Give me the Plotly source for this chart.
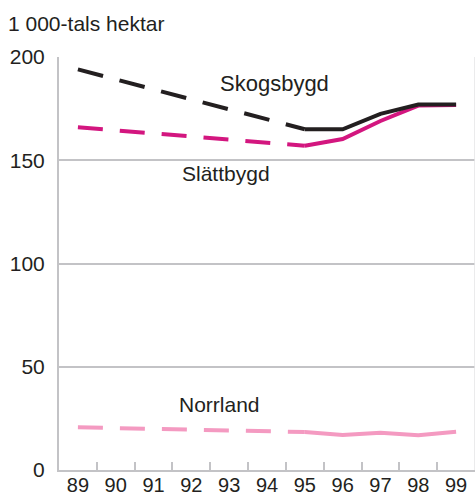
import plotly.graph_objects as go

years = ["89", "90", "91", "92", "93", "94", "95", "96", "97", "98", "99"]

# Dashed (estimated) segment 89-95, solid 95-99
skog_dash_x = ["89", "95"]
skog_dash_y = [194, 165]
skog_x = ["95", "96", "97", "98", "99"]
skog_y = [165, 165, 172.5, 177, 177]

slatt_dash_x = ["89", "95"]
slatt_dash_y = [166, 157]
slatt_x = ["95", "96", "97", "98", "99"]
slatt_y = [157, 160.3, 169, 176.5, 176.8]

norr_dash_x = ["89", "95"]
norr_dash_y = [20.7, 18.4]
norr_x = ["95", "96", "97", "98", "99"]
norr_y = [18.4, 17, 18, 16.8, 18.5]

y_ticks = [0, 50, 100, 150, 200]

BLACK = "#231f20"
MAGENTA = "#d3167f"
PINK = "#f49ac1"
GRID = "#c3c3c6"
FONT = "Liberation Sans, Arial, sans-serif"

fig = go.Figure()

def add(x, y, color, dash):
    fig.add_trace(go.Scatter(x=x, y=y, mode="lines",
                             line=dict(color=color, width=4, dash=dash),
                             hoverinfo="skip", showlegend=False))

add(norr_dash_x, norr_dash_y, PINK, "25px,17px")
add(norr_x, norr_y, PINK, "solid")
add(slatt_dash_x, slatt_dash_y, MAGENTA, "25px,17px")
add(slatt_x, slatt_y, MAGENTA, "solid")
add(skog_dash_x, skog_dash_y, BLACK, "26px,17px")
add(skog_x, skog_y, BLACK, "solid")

fig.update_xaxes(type="category", categoryorder="array", categoryarray=years,
                 tickmode="array", tickvals=years, ticktext=years,
                 tickson="boundaries", ticks="inside", ticklen=8, tickwidth=2,
                 tickcolor=GRID, showline=True, linecolor=GRID, linewidth=2,
                 showgrid=False, zeroline=False, range=[-0.5, 10.5],
                 ticklabelstandoff=-4, automargin=False,
                 tickfont=dict(family=FONT, size=20, color=BLACK))
fig.update_yaxes(range=[0, 200], tickmode="array", tickvals=y_ticks,
                 showgrid=True, gridcolor=GRID, gridwidth=1.7,
                 showline=True, linecolor=GRID, linewidth=2,
                 zeroline=False, ticks="", ticklabelstandoff=8, automargin=False,
                 tickfont=dict(family=FONT, size=21, color=BLACK))

fig.add_shape(type="line", xref="paper", yref="paper", x0=1, x1=1, y0=0, y1=1,
              line=dict(color="#e4e4e6", width=1.5))

def label(text, x, y, size=21):
    fig.add_annotation(text=text, xref="paper", yref="y", x=x, y=y,
                       showarrow=False, xanchor="center", yanchor="middle",
                       font=dict(family=FONT, size=size, color=BLACK))

label("Skogsbygd", 0.519, 187.4, 22)
label("Slättbygd", 0.402, 143.8)
label("Norrland", 0.385, 31.5)

fig.add_annotation(text="1 000-tals hektar", xref="paper", yref="paper",
                   x=-0.1265, y=1.08, xanchor="left", yanchor="middle",
                   showarrow=False, font=dict(family=FONT, size=21, color=BLACK))

fig.update_layout(width=475, height=497,
                  margin=dict(l=59, r=0, t=57, b=27),
                  plot_bgcolor="white", paper_bgcolor="white",
                  font=dict(family=FONT, color=BLACK))

fig.write_html("out.html", config={"displayModeBar": False},
               post_script="document.body.style.margin='0';document.body.style.overflow='hidden';")
